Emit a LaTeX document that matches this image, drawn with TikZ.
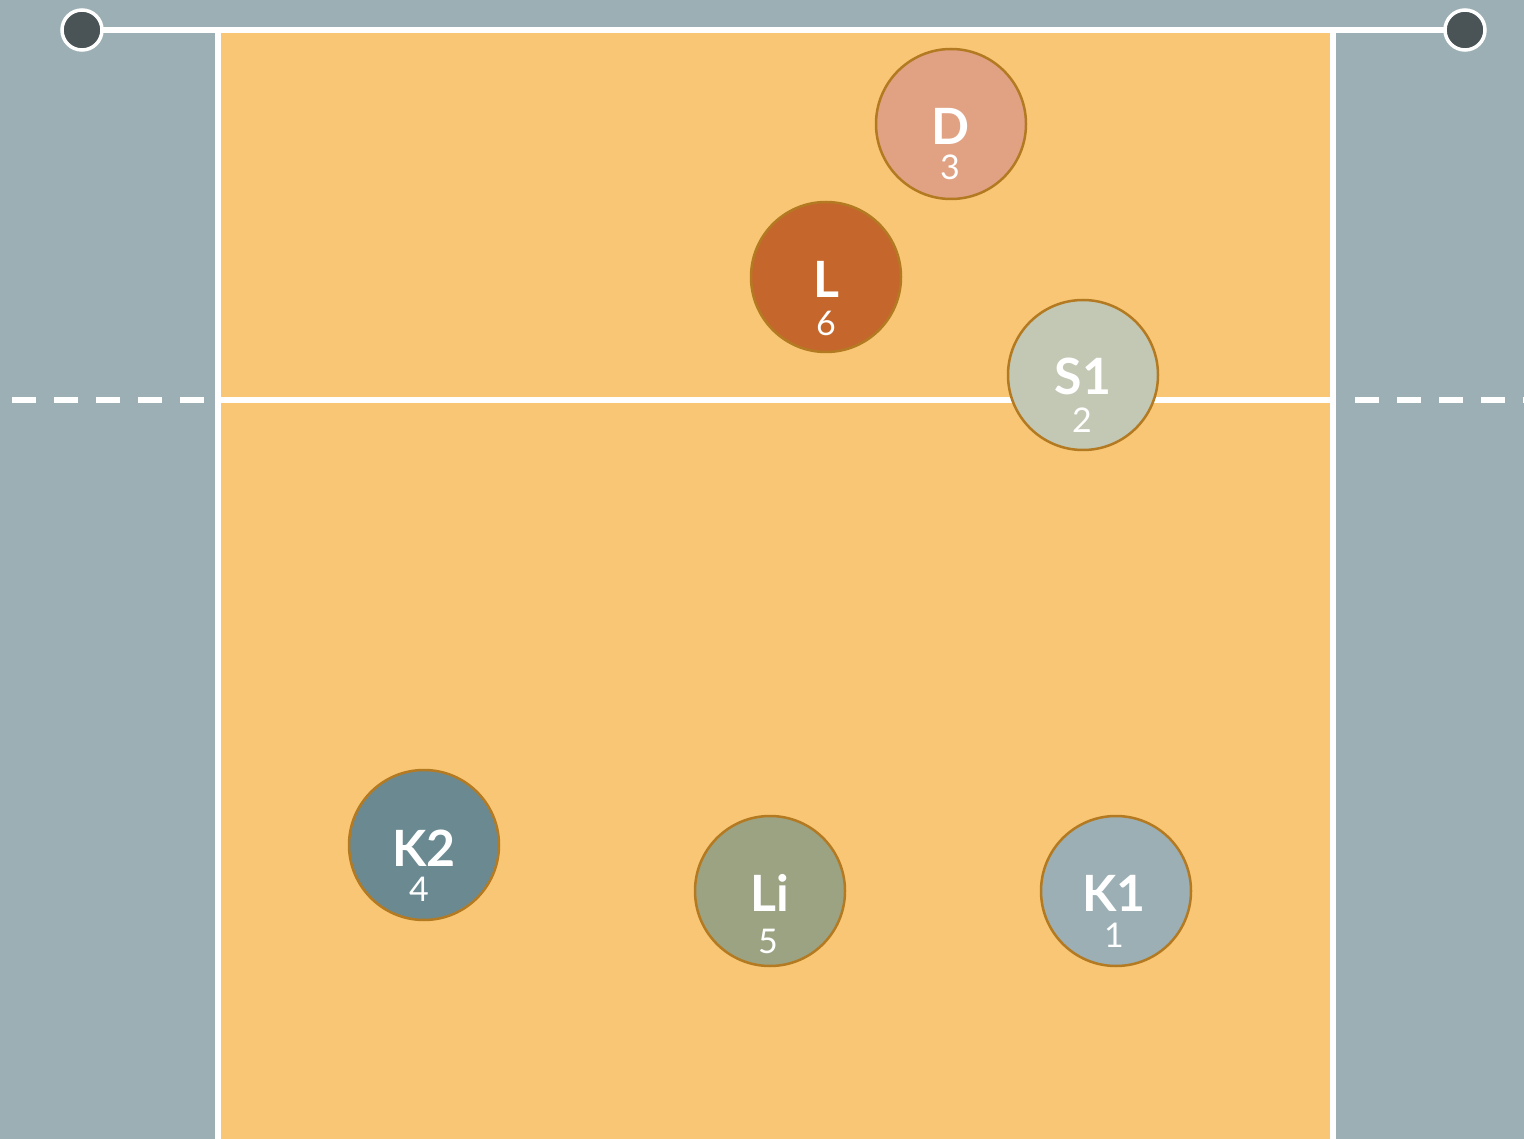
\documentclass[tikz,border=0pt]{standalone}
\usepackage{fontspec}
\setmainfont{Lato}
\definecolor{bggray}{HTML}{9BAFB4}
\definecolor{court}{HTML}{F8C674}
\definecolor{post}{HTML}{4A5457}
\definecolor{rim}{HTML}{B47A22}
\definecolor{cD}{HTML}{E0A283}
\definecolor{cL}{HTML}{C5672D}
\definecolor{cS}{HTML}{C3C8B4}
\definecolor{cKtwo}{HTML}{6B8990}
\definecolor{cLi}{HTML}{9BA383}
\definecolor{cKone}{HTML}{9BAFB4}
\tikzset{
  player/.style={circle, draw=rim, line width=2.5pt, minimum size=150pt, inner sep=0pt},
  plabel/.style={text=white, font=\fontsize{50}{50}\selectfont\bfseries, inner sep=0pt, anchor=center},
  pnum/.style={text=white, font=\fontsize{34}{34}\selectfont, inner sep=0pt, anchor=center},
  postdot/.style={circle, fill=post, draw=white, line width=3.5pt, minimum size=40pt, inner sep=0pt},
  whiteline/.style={draw=white, line width=5.5pt},
}
\begin{document}
\begin{tikzpicture}[x=1pt,y=-1pt]
\useasboundingbox (0,0) rectangle (1524,1139);
\fill[bggray] (0,0) rectangle (1524,1139);
\fill[court] (218,30) rectangle (1333,1145);
% side lines
\draw[whiteline] (218,30) -- (218,1145);
\draw[whiteline] (1333,30) -- (1333,1145);
% centre line
\draw[whiteline] (218,400) -- (1333,400);
% dashed attack lines outside
\draw[draw=white, line width=5.5pt, dash pattern=on 24pt off 18pt] (12,400) -- (212,400);
\draw[draw=white, line width=5.5pt, dash pattern=on 24pt off 18pt] (1355,400) -- (1530,400);
% net with posts
\coordinate (plc) at (82,30);
\coordinate (prc) at (1465,30);
\draw[whiteline] (plc) -- (prc);
\node[postdot] (pl) at (plc) {};
\node[postdot] (pr) at (prc) {};
% players
\node[player, fill=cD] (D) at (951,124) {};
\node[plabel] (Dl) at (951,126) {D};
\node[pnum] (Dn) at (950,167) {3};

\node[player, fill=cL] (L) at (826,277) {};
\node[plabel] (Ll) at (826,279) {L};
\node[pnum] (Ln) at (826,323) {6};

\node[player, fill=cS] (S) at (1083,375) {};
\node[plabel] (Sl) at (1083,376) {S1};
\node[pnum] (Sn) at (1082,420) {2};

\node[player, fill=cKtwo] (K2) at (424,845) {};
\node[plabel] (K2l) at (424,848) {K2};
\node[pnum] (K2n) at (419,889) {4};

\node[player, fill=cLi] (Li) at (770,891) {};
\node[plabel] (Lil) at (770,893) {Li};
\node[pnum] (Lin) at (768,941) {5};

\node[player, fill=cKone] (K1) at (1116,891) {};
\node[plabel] (K1l) at (1114,893) {K1};
\node[pnum] (K1n) at (1114,935) {1};
\end{tikzpicture}
\end{document}
